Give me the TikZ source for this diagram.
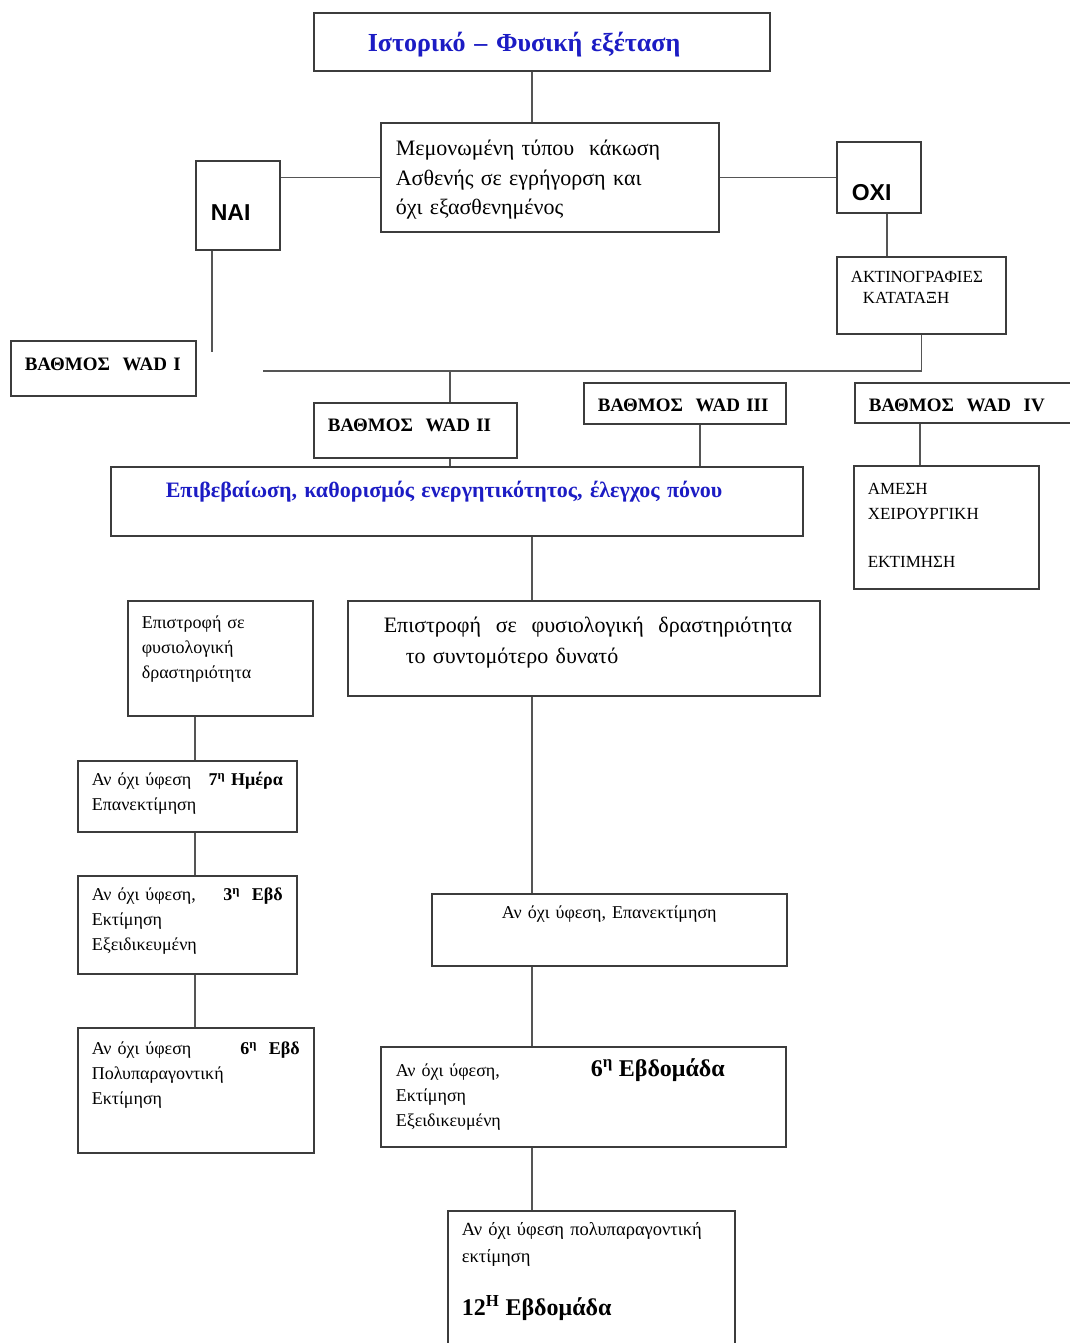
\documentclass[tikz,border=0pt]{standalone}
\usepackage{fontspec}
\setmainfont{Liberation Serif}
\newfontfamily\headsans{Liberation Sans}
\usetikzlibrary{positioning}
\definecolor{boxline}{HTML}{3C3C3C}
\definecolor{linkgray}{HTML}{555555}
\definecolor{headblue}{HTML}{1C1CC4}

\begin{document}
\begin{tikzpicture}[
    x=1pt, y=-1pt,
    box/.style={draw=boxline, line width=1.6pt, anchor=north west, inner ysep=0pt, align=left},
    headbox/.style={box, text=headblue, font=\fontsize{26}{32}\selectfont\bfseries},
    yesno/.style={box, font=\headsans\fontsize{23}{26}\selectfont\bfseries},
    wad/.style={box, font=\fontsize{19}{23}\selectfont\bfseries},
    note/.style={box, font=\fontsize{18}{25}\selectfont},
    link/.style={draw=linkgray, line width=1.4pt}
]
\useasboundingbox (0,0) rectangle (1070,1343);

% columns of the vertical connectors
\coordinate (spine) at (532,0);
\coordinate (leftspine) at (195,0);
\coordinate (naicol) at (212,0);
\coordinate (oxicol) at (887,0);
\coordinate (wadcol) at (450,0);
\coordinate (wadiiicol) at (700,0);
\coordinate (wadivcol) at (920,0);
\coordinate (busend) at (263,371);
\coordinate (naiend) at (212,352);

% top part
\node[headbox, inner xsep=54pt, text width=348pt, text height=39pt, text depth=19pt] (title) at (313,12) {Ιστορικό – Φυσική εξέταση};
\node[box, font=\fontsize{22}{29.5}\selectfont, inner xsep=15pt, text width=308pt, text height=33pt, text depth=76pt] (mem) at (380,122)
    {Μεμονωμένη τύπου\ \ κάκωση\\Ασθενής σε εγρήγορση και\\όχι εξασθενημένος};
\node[yesno, inner xsep=15pt, text width=54pt, text height=60pt, text depth=29pt] (nai) at (195,160) {ΝΑΙ};
\node[yesno, inner xsep=15pt, text width=54pt, text height=59pt, text depth=12pt] (oxi) at (836,141) {ΟΧΙ};
\node[box, font=\fontsize{17}{21}\selectfont, inner xsep=14pt, text width=141pt, text height=26pt, text depth=51pt] (akt) at (836,256)
    {ΑΚΤΙΝΟΓΡΑΦΙΕΣ\\\hspace*{12pt}ΚΑΤΑΤΑΞΗ};

% grades
\node[wad, inner xsep=14pt, text width=157pt, text height=30pt, text depth=25pt] (wadi) at (10,340) {ΒΑΘΜΟΣ~~WAD~I};
\node[wad, inner xsep=14pt, text width=175pt, text height=29pt, text depth=26pt] (wadii) at (313,402) {ΒΑΘΜΟΣ~~WAD~II};
\node[wad, inner xsep=14pt, text width=174pt, text height=29pt, text depth=12pt] (wadiii) at (583,382) {ΒΑΘΜΟΣ~~WAD~III};
\node[wad, inner xsep=14pt, text width=203pt, text height=29pt, text depth=11pt] (wadiv) at (854,382) {ΒΑΘΜΟΣ~~WAD~~IV};

\node[box, text=headblue, font=\fontsize{22}{25}\selectfont\bfseries, inner xsep=55pt, text width=582pt, text height=31pt, text depth=38pt] (confirm) at (110,466)
    {Επιβεβαίωση, καθορισμός ενεργητικότητος, έλεγχος πόνου};
\node[note, font=\fontsize{17}{24.5}\selectfont, inner xsep=14pt, text width=157pt, text height=29pt, text depth=94pt] (amesi) at (853,465)
    {ΑΜΕΣΗ\\ΧΕΙΡΟΥΡΓΙΚΗ\\[24pt]ΕΚΤΙΜΗΣΗ};

% left column
\node[note, inner xsep=14pt, text width=157pt, text height=28pt, text depth=87pt] (backleft) at (127,600)
    {Επιστροφή σε\\φυσιολογική\\δραστηριότητα};
\node[note, inner xsep=14pt, text width=191pt, text height=25pt, text depth=46pt] (day7) at (77,760)
    {Αν όχι ύφεση\hfill\textbf{7\textsuperscript{η} Ημέρα}\\Επανεκτίμηση};
\node[note, inner xsep=14pt, text width=191pt, text height=25pt, text depth=73pt] (wk3) at (77,875)
    {Αν όχι ύφεση,\hfill\textbf{3\textsuperscript{η}~~Εβδ}\\Εκτίμηση\\Εξειδικευμένη};
\node[note, inner xsep=14pt, text width=208pt, text height=27pt, text depth=98pt] (wk6left) at (77,1027)
    {Αν όχι ύφεση\hfill\textbf{6\textsuperscript{η}~~Εβδ}\\Πολυπαραγοντική\\Εκτίμηση};

% main column
\node[box, font=\fontsize{22}{31}\selectfont, inner xsep=36pt, text width=400pt, text height=32pt, text depth=63pt] (backmain) at (347,600)
    {Επιστροφή~~σε~~φυσιολογική~~δραστηριότητα\\\hspace*{22pt}το συντομότερο δυνατό};
\node[note, align=center, inner xsep=14pt, text width=327pt, text height=25pt, text depth=47pt] (reassess) at (431,893)
    {Αν όχι ύφεση, Επανεκτίμηση};
\node[note, inner xsep=15pt, text width=375pt, text height=30pt, text depth=70pt] (wk6) at (380,1046)
    {\makebox[195pt][l]{Αν όχι ύφεση,}{\fontsize{24}{24}\selectfont\bfseries 6\textsuperscript{η}~Εβδομάδα}\\Εκτίμηση\\Εξειδικευμένη};
\node[note, font=\fontsize{18.5}{27}\selectfont, inner xsep=14pt, text width=259pt, text height=25pt, text depth=125pt] (wk12) at (447,1210)
    {Αν όχι ύφεση πολυπαραγοντική\\εκτίμηση\\[26pt]{\fontsize{24}{24}\selectfont\bfseries 12\textsuperscript{Η}~Εβδομάδα}};

% connectors
\draw[link] (title.south -| spine) -- (mem.north -| spine);
\draw[link] (mem.west) -- (mem.west -| nai.east);
\draw[link] (mem.east) -- (mem.east -| oxi.west);
\draw[link] (oxi.south -| oxicol) -- (akt.north -| oxicol);
\draw[link] (akt.south) |- (busend);
\draw[link] (nai.south -| naicol) -- (naiend);
\draw[link] (busend -| wadcol) -- (wadii.north -| wadcol);
\draw[link] (wadii.south -| wadcol) -- (confirm.north -| wadcol);
\draw[link] (wadiii.south -| wadiiicol) -- (confirm.north -| wadiiicol);
\draw[link] (wadiv.south -| wadivcol) -- (amesi.north -| wadivcol);
\draw[link] (confirm.south -| spine) -- (backmain.north -| spine);
\draw[link] (backmain.south -| spine) -- (reassess.north -| spine);
\draw[link] (reassess.south -| spine) -- (wk6.north -| spine);
\draw[link] (wk6.south -| spine) -- (wk12.north -| spine);
\draw[link] (backleft.south -| leftspine) -- (day7.north -| leftspine);
\draw[link] (day7.south -| leftspine) -- (wk3.north -| leftspine);
\draw[link] (wk3.south -| leftspine) -- (wk6left.north -| leftspine);
\end{tikzpicture}
\end{document}
